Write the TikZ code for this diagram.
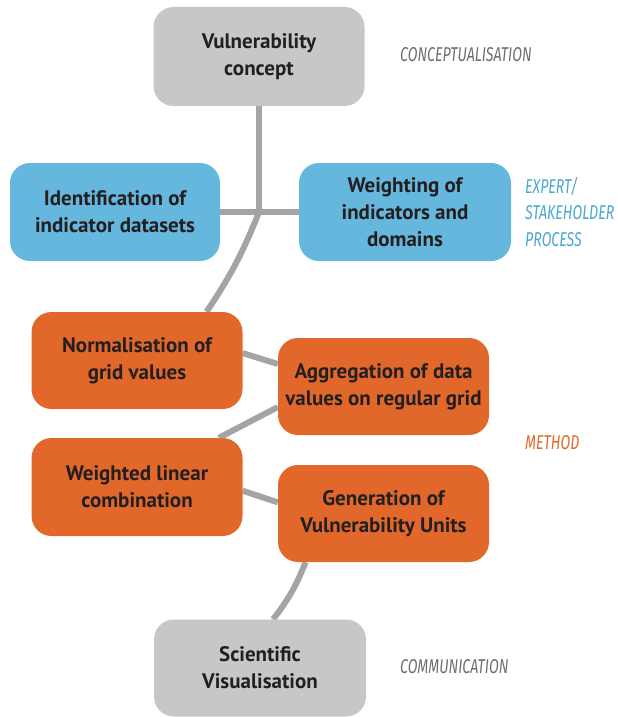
\documentclass[tikz,border=0pt]{standalone}
\usepackage{fontspec}
\usetikzlibrary{backgrounds}
\setmainfont{PT Sans}
\newfontfamily\labfont[FakeStretch=0.71]{Fira Sans}
\definecolor{boxgray}{HTML}{C6C7C9}
\definecolor{boxblue}{HTML}{65B7DD}
\definecolor{boxorange}{HTML}{E2672A}
\definecolor{linegray}{HTML}{A3A4A6}
\definecolor{textdark}{HTML}{231F20}
\definecolor{labgray}{HTML}{6D6E71}
\definecolor{labblue}{HTML}{4CA7CF}
\definecolor{laborange}{HTML}{E2672A}
\tikzset{
  stepbox/.style={rounded corners=20pt, minimum width=211pt, minimum height=97pt,
    align=center, inner sep=0pt, text=textdark,
    font=\bfseries\fontsize{21}{27}\selectfont},
  graybox/.style={stepbox, fill=boxgray},
  bluebox/.style={stepbox, fill=boxblue},
  orangebox/.style={stepbox, fill=boxorange},
  link/.style={draw=linegray, line width=6pt},
  phase/.style={anchor=west, inner sep=0pt, font=\labfont\itshape\fontsize{20}{26.5}\selectfont, align=left}
}
\begin{document}
\begin{tikzpicture}[x=1pt,y=-1pt]
\useasboundingbox (0,0) rectangle (618,717);
\coordinate (hub) at (259,212);
\node[graybox, minimum height=99pt] (concept) at (259,56.5) {Vulnerability\\concept};
\node[bluebox, minimum width=210pt, minimum height=98pt] (ident) at (115,212) {Identification of\\indicator datasets};
\node[bluebox, minimum width=212pt, minimum height=98pt] (weight) at (405,212) {Weighting of\\indicators and\\domains};
\node[orangebox] (norm) at (137,360.5) {Normalisation of\\grid values};
\node[orangebox] (agg) at (383.5,386.5) {Aggregation of data\\values on regular grid};
\node[orangebox, minimum height=98pt] (wlc) at (137,487) {Weighted linear\\combination};
\node[orangebox] (gen) at (383.5,513.5) {Generation of\\Vulnerability Units};
\node[graybox, minimum width=212pt] (vis) at (260,668) {Scientific\\Visualisation};
\begin{scope}[on background layer]
\path[link] (concept.south) -- (hub);
\path[link] (ident.east) -- (weight.west);
\path[link] (hub) to[bend left=6] (norm.35);
\path[link] (norm.4.6) -- (agg.168);
\path[link] (agg.191) -- (wlc.31.5);
\path[link] (wlc.-2.7) -- (gen.174.4);
\path[link] (gen.212) to[bend left=8] (vis.75);
\end{scope}
% phase labels
\node[phase, text=labgray] (lconc) at (400,55) {CONCEPTUALISATION};
\node[phase, text=labblue] (lexp) at (525,212) {EXPERT/\\STAKEHOLDER\\PROCESS};
\node[phase, text=laborange] (lmeth) at (525,443) {METHOD};
\node[phase, text=labgray] (lcomm) at (400,667) {COMMUNICATION};
\end{tikzpicture}
\end{document}
